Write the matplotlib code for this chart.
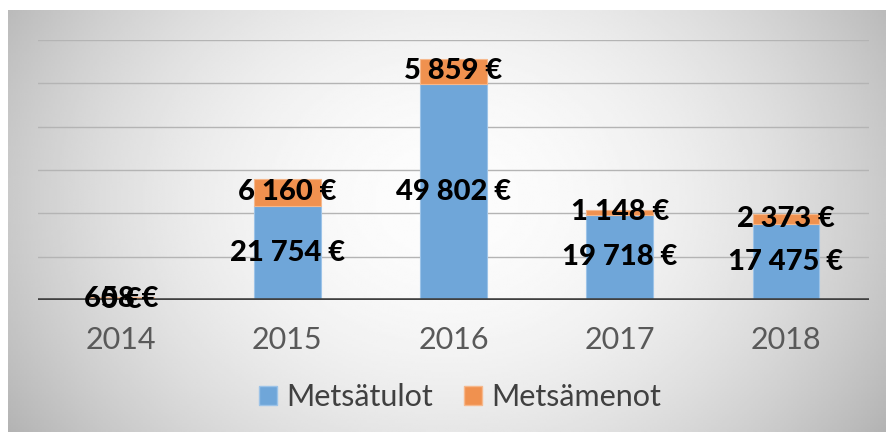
import numpy as np
import matplotlib
matplotlib.use("Agg")
import matplotlib.pyplot as plt
from matplotlib.patches import Patch

# Data
years = ["2014", "2015", "2016", "2017", "2018"]
metsatulot = [0, 21754, 49802, 19718, 17475]
metsamenot = [658, 6160, 5859, 1148, 2373]

BLUE = "#6fa6d9"
ORANGE = "#f0914f"


def fmt_eur(v):
    return f"{v:,} €".replace(",", " ")


def main():
    plt.rcParams["font.family"] = ["Lato", "DejaVu Sans"]

    W, H = 886, 432
    fig = plt.figure(figsize=(W / 100, H / 100), dpi=100)
    fig.patch.set_facecolor("white")

    # grey radial-gradient panel behind the chart
    bg = fig.add_axes([8 / W, 0, (W - 8) / W, (H - 10) / H], zorder=-5)
    gx, gy = np.meshgrid(np.linspace(-1, 1, 400), np.linspace(-1, 1, 200))
    r = np.sqrt(gx ** 2 + ((gy + 0.1) * 0.6) ** 2)
    shade = 0.99 - 0.2 * np.clip(r, 0, 1.3) ** 2
    bg.imshow(shade, cmap="gray", vmin=0, vmax=1, aspect="auto",
              extent=[0, 1, 0, 1], interpolation="bilinear")
    bg.axis("off")

    ax = fig.add_axes([38 / W, (H - 300) / H, 831 / W, 260 / H])
    ax.set_facecolor("none")

    x = np.arange(len(years))
    width = 0.4
    ax.bar(x, metsatulot, width, color=BLUE, edgecolor="#9cc3e8",
           linewidth=0.8, zorder=3)
    ax.bar(x, metsamenot, width, bottom=metsatulot, color=ORANGE,
           edgecolor="#f6b88c", linewidth=0.8, zorder=3)

    ax.set_xlim(-0.5, len(years) - 0.5)
    ax.set_ylim(0, 60000)
    ax.set_yticks(range(0, 60001, 10000))
    ax.set_yticklabels([])
    ax.grid(axis="y", color="#b4b4b4", linewidth=1.0, zorder=1)
    ax.axhline(60000, color="#e4e4e4", linewidth=1.2, zorder=1)
    ax.axhline(0, color="#404040", linewidth=2.6, zorder=4)
    for s in ax.spines.values():
        s.set_visible(False)

    ax.set_xticks(x)
    ax.set_xticklabels(years, fontsize=22, color="#595959")
    ax.tick_params(axis="both", length=0)
    ax.tick_params(axis="x", pad=19)

    # data labels centred in each segment
    for i in range(len(years)):
        b = metsatulot[i]
        o = metsamenot[i]
        ax.text(x[i], b / 2, fmt_eur(b), ha="center", va="center",
                fontsize=21, fontweight="black", color="black", zorder=6)
        ax.text(x[i], b + o / 2, fmt_eur(o), ha="center", va="center",
                fontsize=21, fontweight="black", color="black", zorder=6)

    handles = [Patch(facecolor=BLUE, edgecolor="#9cc3e8", label="Metsätulot"),
               Patch(facecolor=ORANGE, edgecolor="#f6b88c", label="Metsämenot")]
    fig.legend(handles=handles, loc="center", bbox_to_anchor=(460 / W, 1 - 397 / H),
               ncol=2, frameon=False, fontsize=22, handlelength=0.6,
               handleheight=0.6, handletextpad=0.3, columnspacing=1.0,
               labelcolor="#404040")

    fig.savefig("out.png", dpi=100)


if __name__ == "__main__":
    main()
